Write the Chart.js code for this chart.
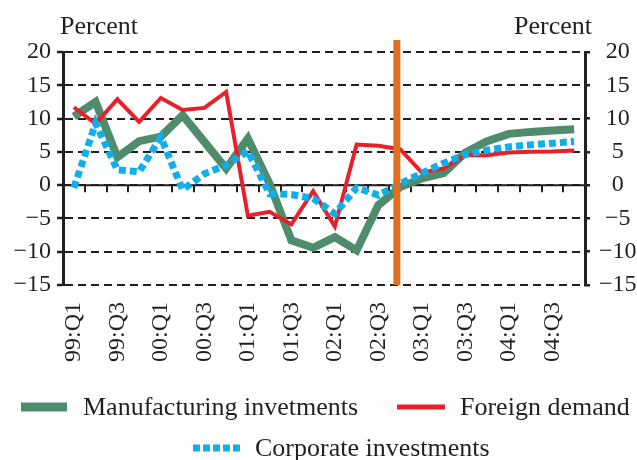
<!DOCTYPE html>
<html><head><meta charset="utf-8">
<script src="https://cdn.jsdelivr.net/npm/chart.js@4"></script>
<style>html,body{margin:0;padding:0;background:#fff;overflow:hidden}</style>
</head><body>
<canvas id="c" width="637" height="460" style="display:block;width:637px;height:460px"></canvas>
<script>
// ---------- data ----------
const quarters = ['99:Q1','99:Q2','99:Q3','99:Q4','00:Q1','00:Q2','00:Q3','00:Q4',
                  '01:Q1','01:Q2','01:Q3','01:Q4','02:Q1','02:Q2','02:Q3','02:Q4',
                  '03:Q1','03:Q2','03:Q3','03:Q4','04:Q1','04:Q2','04:Q3','04:Q4'];
const shownTickLabels = ['99:Q1','99:Q3','00:Q1','00:Q3','01:Q1','01:Q3','02:Q1','02:Q3','03:Q1','03:Q3','04:Q1','04:Q3'];
const yTicks = [-15, -10, -5, 0, 5, 10, 15, 20];
const manufacturing = [10.3, 12.5, 4.2, 6.6, 7.3, 10.5, 6.5, 2.5, 7.0, 0.2, -8.3, -9.4,
                       -7.8, -9.8, -3.0, -0.3, 1.0, 1.8, 4.9, 6.6, 7.7, 8.0, 8.2, 8.4];
const foreignDemand = [11.7, 9.2, 12.9, 9.5, 13.1, 11.3, 11.6, 14.0, -4.6, -4.0, -5.9, -0.9,
                       -6.2, 6.1, 5.9, 5.4, 1.9, 2.5, 4.5, 4.5, 4.9, 5.0, 5.05, 5.2];
const corporate = [-0.4, 9.3, 2.3, 2.0, 7.2, -0.7, 1.7, 3.0, 5.1, -1.3, -1.4, -2.0,
                   -4.3, -0.4, -1.5, 0.2, 1.8, 3.3, 4.6, 5.25, 5.75, 6.05, 6.3, 6.55];
const seriesNames = ['Manufacturing invetments', 'Foreign demand', 'Corporate investments'];
const forecastStartIndex = 14.85;   // position of the vertical forecast marker (between 02:Q3 and 03:Q1 region)
const unitLabel = 'Percent';

// ---------- styles ----------
const FONT = "'Liberation Serif','Times New Roman',serif";
const INK = '#231f20';
const GREEN = '#4f8c6d', RED = '#e8202a', BLUE = '#12aeea', ORANGE = '#df7020';

const fmt = v => v < 0 ? '\u2212' + Math.abs(v) : String(v);

const deco = {
  id: 'deco',
  beforeDatasetsDraw(chart) {
    const {ctx, chartArea: a, scales: {x, y}} = chart;
    const y0 = y.getPixelForValue(0);
    ctx.save();
    ctx.strokeStyle = INK;
    ctx.lineWidth = 2;
    ctx.beginPath();
    ctx.moveTo(a.left, y0); ctx.lineTo(a.right, y0);
    for (let i = 1; i < quarters.length; i++) {
      const px = Math.round(x.getPixelForValue(i - 0.5)) + 0.0;
      ctx.moveTo(px, y0); ctx.lineTo(px, y0 + 7);
    }
    ctx.stroke();
    ctx.restore();
  },
  afterDatasetsDraw(chart) {
    const {ctx, chartArea: a, scales: {x}} = chart;
    const px = x.getPixelForValue(forecastStartIndex);
    ctx.save();
    ctx.fillStyle = ORANGE;
    ctx.fillRect(px - 3.5, 40, 7, a.bottom - 40);
    ctx.restore();
  },
  afterDraw(chart) {
    const {ctx, chartArea: a} = chart;
    const ds = chart.data.datasets;
    ctx.save();
    ctx.fillStyle = INK;
    ctx.font = '26px ' + FONT;
    ctx.textBaseline = 'alphabetic';
    ctx.textAlign = 'left';
    ctx.fillText(unitLabel, 60, 34);
    ctx.textAlign = 'right';
    ctx.fillText(unitLabel, 592, 34);
    // legend
    const items = [
      {d: ds[0], x1: 21, x2: 67, y: 407, tx: 83, ty: 415},
      {d: ds[1], x1: 397, x2: 445, y: 407, tx: 460, ty: 415},
      {d: ds[2], x1: 193, x2: 240, y: 448, tx: 255, ty: 456}
    ];
    ctx.textAlign = 'left';
    items.forEach(it => {
      ctx.save();
      ctx.strokeStyle = it.d.borderColor;
      ctx.lineWidth = it.d.legendWidth;
      ctx.lineCap = 'butt';
      ctx.setLineDash(it.d.legendDash || []);
      ctx.beginPath(); ctx.moveTo(it.x1, it.y); ctx.lineTo(it.x2, it.y); ctx.stroke();
      ctx.restore();
      ctx.fillStyle = INK;
      ctx.font = '26px ' + FONT;
      ctx.fillText(it.d.label, it.tx, it.ty);
    });
    ctx.restore();
  }
};

new Chart(document.getElementById('c'), {
  type: 'line',
  data: {
    labels: quarters,
    datasets: [
      {label: seriesNames[0], data: manufacturing, borderColor: GREEN, borderWidth: 8, legendWidth: 9,
       borderJoinStyle: 'miter', borderCapStyle: 'butt', pointRadius: 0, tension: 0, order: 3},
      {label: seriesNames[1], data: foreignDemand, borderColor: RED, borderWidth: 4, legendWidth: 5,
       borderJoinStyle: 'miter', borderCapStyle: 'butt', pointRadius: 0, tension: 0, order: 2},
      {label: seriesNames[2], data: corporate, borderColor: BLUE, borderWidth: 7, legendWidth: 7,
       borderDash: [7, 4], legendDash: [7, 3], borderCapStyle: 'butt', borderJoinStyle: 'miter',
       pointRadius: 0, tension: 0, order: 1}
    ]
  },
  options: {
    responsive: false,
    animation: false,
    devicePixelRatio: 1,
    layout: {padding: {top: 52, left: 0, right: 0, bottom: 0}},
    plugins: {legend: {display: false}, tooltip: {enabled: false}},
    scales: {
      x: {
        type: 'category',
        offset: true,
        grid: {display: false, drawTicks: false},
        border: {display: false},
        ticks: {
          autoSkip: false, minRotation: 90, maxRotation: 90, padding: 17,
          color: INK, font: {family: FONT, size: 24},
          callback: (v, i) => shownTickLabels.includes(quarters[i]) ? quarters[i] : ''
        },
        afterFit: s => { s.height = 175; }
      },
      y: {
        position: 'left', min: -15, max: 20,
        afterBuildTicks: s => { s.ticks = yTicks.map(v => ({value: v})); },
        grid: {color: INK, lineWidth: 2, tickLength: 6, tickColor: INK, tickWidth: 2.5},
        border: {display: true, color: INK, width: 3, dash: [8, 5]},
        ticks: {padding: 6, color: INK, font: {family: FONT, size: 24}, callback: v => fmt(v)},
        afterFit: s => { s.width = 63; }
      },
      y2: {
        position: 'right', min: -15, max: 20,
        afterBuildTicks: s => { s.ticks = yTicks.map(v => ({value: v})); },
        grid: {drawOnChartArea: false, color: INK, lineWidth: 2.5, tickLength: 5},
        border: {display: true, color: INK, width: 3},
        ticks: {padding: 9, crossAlign: 'center', color: INK, font: {family: FONT, size: 24}, callback: v => fmt(v)},
        afterFit: s => { s.width = 52; }
      }
    }
  },
  plugins: [deco]
});
</script>
</body></html>
